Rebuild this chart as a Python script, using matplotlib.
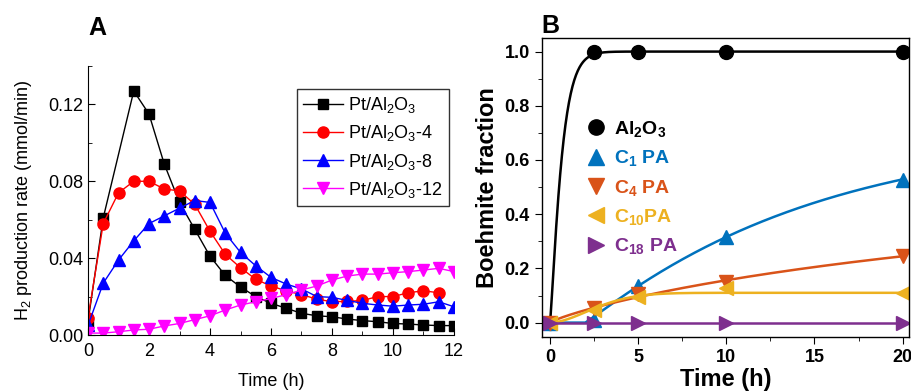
import numpy as np
import matplotlib
matplotlib.use('Agg')
import matplotlib.pyplot as plt
from matplotlib.lines import Line2D

plt.rcParams['font.family'] = ['Liberation Sans', 'DejaVu Sans']
plt.rcParams['mathtext.default'] = 'regular'

# ---- panel A: H2 production rate ----
t_half = [0, 0.5, 1, 1.5, 2, 2.5, 3, 3.5, 4, 4.5, 5, 5.5, 6, 6.5, 7, 7.5, 8,
          8.5, 9, 9.5, 10, 10.5, 11, 11.5, 12]
t_pt = [0, 0.5, 1.5, 2, 2.5, 3, 3.5, 4, 4.5, 5, 5.5, 6, 6.5, 7, 7.5, 8,
        8.5, 9, 9.5, 10, 10.5, 11, 11.5, 12]
rate_pt = [0.007, 0.061, 0.127, 0.115, 0.089, 0.069, 0.055, 0.041, 0.031, 0.025,
           0.020, 0.0165, 0.0139, 0.0113, 0.010, 0.0095, 0.0083, 0.0075, 0.0069,
           0.006, 0.0057, 0.0052, 0.0049, 0.0049]
t_pt4 = t_half[:-1]
rate_pt4 = [0.009, 0.058, 0.074, 0.080, 0.080, 0.076, 0.075, 0.068, 0.054, 0.042,
            0.035, 0.029, 0.0255, 0.023, 0.021, 0.0187, 0.0173, 0.0175, 0.018,
            0.020, 0.020, 0.022, 0.023, 0.022]
rate_pt8 = [0.005, 0.027, 0.039, 0.049, 0.058, 0.062, 0.066, 0.070, 0.069, 0.053,
            0.043, 0.036, 0.030, 0.0265, 0.024, 0.020, 0.0196, 0.018, 0.0165,
            0.0156, 0.015, 0.0156, 0.016, 0.0173, 0.0147]
rate_pt12 = [0.001, 0.001, 0.0017, 0.0026, 0.003, 0.0047, 0.006, 0.008, 0.010,
             0.013, 0.0156, 0.0173, 0.019, 0.021, 0.0234, 0.0255, 0.0286, 0.0307,
             0.0317, 0.0317, 0.0324, 0.033, 0.0338, 0.0347, 0.033]

# ---- panel B: boehmite fraction ----
t_b = [0, 2.5, 5, 10, 20]
frac_al2o3 = [0, 1.0, 1.0, 1.0, 1.0]
frac_c1 = [0, 0.01, 0.135, 0.315, 0.525]
frac_c4 = [0, 0.055, 0.105, 0.15, 0.245]
frac_c10 = [0, 0.045, 0.095, 0.127, 0.108]
frac_c18 = [0, 0, 0, 0, 0]

# JMAK fit parameters (amplitude, tau, exponent, onset) for the kinetic curves
fit_al2o3 = (1.0, 0.7, 1.2, 0.0)
fit_c1 = (0.7, 13.0, 1.05, 2.0)
fit_c4 = (0.5, 32.0, 0.843, 0.0)
fit_c10 = (0.11, 3.2, 1.8, 0.0)
fit_c18 = (0.0, 1.0, 1.0, 0.0)


def jmak(t, a, tau, n, t0):
    dt = np.clip(t - t0, 0, None)
    return a * (1 - np.exp(-(dt / tau) ** n))


fig = plt.figure(figsize=(9.12, 3.92), dpi=100)

axA = fig.add_axes([0.0965, 0.1454, 0.4013, 0.6862])
axA.plot(t_pt, rate_pt, '-s', color='black', mfc='black', mec='black', ms=7, lw=1,
         label='Pt/Al$_2$O$_3$')
axA.plot(t_pt4, rate_pt4, '-o', color='red', ms=8, lw=1, label='Pt/Al$_2$O$_3$-4')
axA.plot(t_half, rate_pt8, '-^', color='blue', ms=8, lw=1, label='Pt/Al$_2$O$_3$-8')
axA.plot(t_half, rate_pt12, '-v', color='magenta', ms=8, lw=1, label='Pt/Al$_2$O$_3$-12')
axA.set_xlim(0, 12)
axA.set_ylim(0, 0.14)
axA.set_xticks([0, 2, 4, 6, 8, 10, 12])
axA.set_xticks([1, 3, 5, 7, 9, 11], minor=True)
axA.set_yticks([0.0, 0.04, 0.08, 0.12])
axA.set_yticks([0.02, 0.06, 0.10, 0.14], minor=True)
axA.set_yticklabels(['0.00', '0.04', '0.08', '0.12'])
axA.spines['top'].set_visible(False)
axA.spines['right'].set_visible(False)
axA.tick_params(which='both', direction='in', labelsize=13)
axA.tick_params(axis='x', pad=6)
axA.tick_params(which='major', length=5)
axA.tick_params(which='minor', length=3)
axA.set_xlabel('Time (h)', fontsize=13, labelpad=9)
axA.set_ylabel('H$_2$ production rate (mmol/min)', fontsize=13, labelpad=10)
legA = axA.legend(loc='upper right', bbox_to_anchor=(0.986, 0.9145), borderaxespad=0,
                  fontsize=13, fancybox=False, edgecolor='black', handlelength=2.2,
                  labelspacing=0.45, handletextpad=0.3, borderpad=0.35)
legA.get_frame().set_linewidth(1.0)
fig.text(0.097, 0.91, 'A', fontsize=18, fontweight='bold')

axB = fig.add_axes([0.594, 0.141, 0.4027, 0.762])
t_fine = np.linspace(0, 20, 800)
series_b = [
    (frac_al2o3, fit_al2o3, 'black', 'o', 'Al$_2$O$_3$'),
    (frac_c1, fit_c1, '#0072BD', '^', 'C$_1$ PA'),
    (frac_c4, fit_c4, '#D95319', 'v', 'C$_4$ PA'),
    (frac_c10, fit_c10, '#EDB120', '<', 'C$_{10}$PA'),
    (frac_c18, fit_c18, '#7E2F8E', '>', 'C$_{18}$ PA'),
]
handles = []
for frac, fit, col, mk, lab in series_b:
    axB.plot(t_fine, jmak(t_fine, *fit), color=col, lw=1.8)
    axB.plot(t_b, frac, linestyle='none', marker=mk, color=col, ms=10)
    handles.append(Line2D([], [], linestyle='none', marker=mk, color=col, ms=11, label=lab))
axB.set_xlim(-0.47, 20.36)
axB.set_ylim(-0.052, 1.05)
axB.set_xticks([0, 5, 10, 15, 20])
axB.set_xticks([2.5, 7.5, 12.5, 17.5], minor=True)
axB.set_yticks([0.0, 0.2, 0.4, 0.6, 0.8, 1.0])
axB.set_yticks([0.1, 0.3, 0.5, 0.7, 0.9], minor=True)
axB.tick_params(which='both', direction='out', labelsize=13, top=False, right=False)
axB.tick_params(which='major', length=5)
axB.tick_params(which='minor', length=3)
for lbl in axB.get_xticklabels() + axB.get_yticklabels():
    lbl.set_fontweight('bold')
for sp in axB.spines.values():
    sp.set_linewidth(1.0)
axB.set_xlabel('Time (h)', fontsize=17, fontweight='bold', labelpad=2)
axB.set_ylabel('Boehmite fraction', fontsize=17, fontweight='bold', labelpad=4)
legB = axB.legend(handles=handles, loc='upper left', bbox_to_anchor=(0.095, 0.755),
                  borderaxespad=0, frameon=False, handletextpad=0.3,
                  labelspacing=0.48, handlelength=1.2,
                  labelcolor=[h.get_color() for h in handles],
                  prop={'weight': 'bold', 'size': 14})
fig.text(0.594, 0.915, 'B', fontsize=18, fontweight='bold')

fig.savefig('out.png', dpi=100)
